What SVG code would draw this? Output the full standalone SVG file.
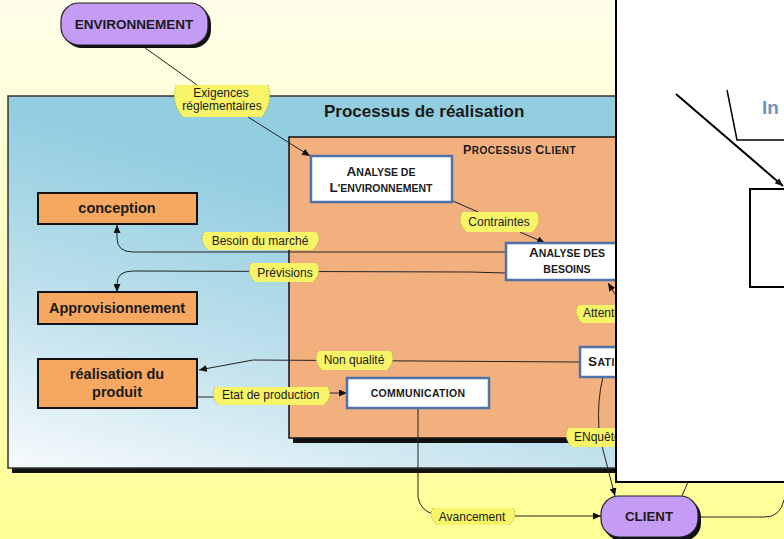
<svg xmlns="http://www.w3.org/2000/svg" width="784" height="539" viewBox="0 0 784 539">
<defs>
  <linearGradient id="gBg" x1="0" y1="0" x2="0" y2="1">
    <stop offset="0" stop-color="#fffeea"/>
    <stop offset="1" stop-color="#ffff96"/>
  </linearGradient>
  <linearGradient id="gBlue" gradientUnits="userSpaceOnUse" x1="40" y1="465" x2="130" y2="140">
    <stop offset="0" stop-color="#f3f9fc"/>
    <stop offset="0.45" stop-color="#c2e2ed"/>
    <stop offset="1" stop-color="#92cde0"/>
  </linearGradient>
  <marker id="arr" markerUnits="userSpaceOnUse" markerWidth="8" markerHeight="7" refX="8" refY="3.5" orient="auto">
    <path d="M0,0 L8,3.5 L0,7 z" fill="#111"/>
  </marker>
  <style>
    text { font-family: "Liberation Sans", Arial, sans-serif; fill: #1a1a1a; }
    .b { font-weight: bold; }
    .node-o { fill: #f6a860; stroke: #111; stroke-width: 2; }
    .node-w { fill: #ffffff; stroke: #4f72a8; stroke-width: 2.5; }
    .pill { fill: #c59cf5; stroke: #222; stroke-width: 1.2; }
    .shadow { fill: #111; }
    .ln { fill: none; stroke: #222; stroke-width: 1; }
    .lb { fill: #f7f468; }
    .ls { fill: none; stroke: #a39437; stroke-width: 0.7; stroke-dasharray: 1.5 1.5; }
    .lt { font-size: 12px; }
    .nt { font-size: 14.5px; font-weight: bold; }
    .sc { font-size: 10.5px; font-weight: bold; }
    .big { font-size: 13.5px; }
    .pl { fill: none; stroke: #000; }
  </style>
</defs>

<rect x="0" y="0" width="784" height="539" fill="url(#gBg)"/>

<!-- Container: Processus de réalisation -->
<g id="processus-realisation">
  <rect x="12" y="100" width="610" height="373" class="shadow"/>
  <rect x="8" y="96" width="610" height="372" fill="url(#gBlue)" stroke="#333" stroke-width="1.5"/>
  <text x="324" y="117" class="b" font-size="17">Processus de réalisation</text>
</g>

<!-- Container: Processus Client -->
<g id="processus-client">
  <rect x="293" y="141" width="330" height="302" class="shadow"/>
  <rect x="289" y="137" width="330" height="301" fill="#f3b07f" stroke="#111" stroke-width="1.5"/>
  <text x="463" y="154" class="b" font-size="10" letter-spacing="0.5" fill="#2a2a2a"><tspan font-size="12.5">P</tspan>ROCESSUS <tspan font-size="12.5">C</tspan>LIENT</text>
</g>

<!-- Connectors -->
<g id="connectors">
  <path class="ln" d="M141,45 L197,85"/>
  <path class="ln" d="M248,117 L310,156" marker-end="url(#arr)"/>
  <path class="ln" d="M453,201 L478,212"/>
  <path class="ln" d="M520,232 L545,243" marker-end="url(#arr)"/>
  <path class="ln" d="M506,252 L133,252 Q117,252 117,238 L117,225" marker-end="url(#arr)"/>
  <path class="ln" d="M506,273 L470,272 L133,271 Q117,271 117,284 L117,292" marker-end="url(#arr)"/>
  <path class="ln" d="M615,294 L608,283" marker-end="url(#arr)"/>
  <path class="ln" d="M580,362 L253,360 L199,370" marker-end="url(#arr)"/>
  <path class="ln" d="M197,397 L214,397"/>
  <path class="ln" d="M329,393 L347,393" marker-end="url(#arr)"/>
  <path class="ln" d="M603,377 Q597,400 599,430"/>
  <path class="ln" d="M602,446 L615,496" marker-end="url(#arr)"/>
  <path class="ln" d="M418,408 L418,497 Q420,510 433,514"/>
  <path class="ln" d="M515,516 L601,516" marker-end="url(#arr)"/>
  <path class="ln" d="M682,496 L688,482"/>
  <path class="ln" d="M698,517 L765,517 Q780,517 784,500"/>

  <g id="lbl-exigences">
    <path class="lb" d="M176,85 L268,85 C271,95 271,105 262,117 L183,117 C173,105 173,95 176,85 Z"/>
    <path class="ls" d="M176,85 C173,95 173,105 183,117 M268,85 C271,95 271,105 262,117"/>
    <text x="221" y="97" class="lt" text-anchor="middle">Exigences</text>
    <text x="222" y="110" class="lt" text-anchor="middle">réglementaires</text>
  </g>
  <g id="lbl-contraintes">
    <path class="lb" d="M462,212 L537,212 C540,218 540,224 533,232 L466,232 C459,224 459,218 462,212 Z"/>
    <path class="ls" d="M462,212 C459,218 459,224 466,232 M537,212 C540,218 540,224 533,232"/>
    <text x="499" y="226" class="lt" text-anchor="middle">Contraintes</text>
  </g>
  <g id="lbl-besoin">
    <path class="lb" d="M204,232 L317,232 C320,238 320,243 313,250 L208,250 C201,243 201,238 204,232 Z"/>
    <path class="ls" d="M204,232 C201,238 201,243 208,250 M317,232 C320,238 320,243 313,250"/>
    <text x="260" y="245" class="lt" text-anchor="middle">Besoin du marché</text>
  </g>
  <g id="lbl-previsions">
    <path class="lb" d="M251,263 L317,263 C320,269 320,275 313,282 L255,282 C248,275 248,269 251,263 Z"/>
    <path class="ls" d="M251,263 C248,269 248,275 255,282 M317,263 C320,269 320,275 313,282"/>
    <text x="285" y="277" class="lt" text-anchor="middle">Prévisions</text>
  </g>
  <g id="lbl-attentes">
    <path class="lb" d="M578,305 L630,305 L630,323 L582,323 C575,316 575,310 578,305 Z"/>
    <path class="ls" d="M578,305 C575,310 575,316 582,323"/>
    <text x="583" y="317" class="lt">Attentes</text>
  </g>
  <g id="lbl-nonqualite">
    <path class="lb" d="M318,351 L391,351 C394,357 394,363 387,370 L322,370 C315,363 315,357 318,351 Z"/>
    <path class="ls" d="M318,351 C315,357 315,363 322,370 M391,351 C394,357 394,363 387,370"/>
    <text x="354" y="364" class="lt" text-anchor="middle">Non qualité</text>
  </g>
  <g id="lbl-etat">
    <path class="lb" d="M215,387 L328,387 C331,393 331,399 324,405 L219,405 C212,399 212,393 215,387 Z"/>
    <path class="ls" d="M215,387 C212,393 212,399 219,405 M328,387 C331,393 331,399 324,405"/>
    <text x="222" y="399" class="lt">Etat de production</text>
  </g>
  <g id="lbl-enquete">
    <path class="lb" d="M568,428 L630,428 L630,447 L572,447 C565,440 565,434 568,428 Z"/>
    <path class="ls" d="M568,428 C565,434 565,440 572,447"/>
    <text x="574" y="441" class="lt">ENquête</text>
  </g>
  <g id="lbl-avancement">
    <path class="lb" d="M433,508 L513,508 C516,513 516,518 509,525 L437,525 C430,518 430,513 433,508 Z"/>
    <path class="ls" d="M433,508 C430,513 430,518 437,525 M513,508 C516,513 516,518 509,525"/>
    <text x="472" y="521" class="lt" text-anchor="middle">Avancement</text>
  </g>
</g>

<!-- Nodes -->
<g id="environnement">
  <rect x="64" y="6" width="147" height="42" rx="18" class="shadow"/>
  <rect x="61" y="3" width="147" height="42" rx="18" class="pill"/>
  <text x="134" y="29" class="b" font-size="13.5" text-anchor="middle">ENVIRONNEMENT</text>
</g>

<g id="client">
  <rect x="604" y="499" width="97" height="42" rx="18" class="shadow"/>
  <rect x="601" y="496" width="97" height="41" rx="18" class="pill"/>
  <text x="649" y="521" class="b" font-size="13.3" text-anchor="middle">CLIENT</text>
</g>

<g id="conception">
  <rect x="38" y="193" width="159" height="31" class="node-o"/>
  <text x="117" y="213" class="nt" text-anchor="middle">conception</text>
</g>

<g id="approvisionnement">
  <rect x="38" y="292" width="159" height="32" class="node-o"/>
  <text x="117" y="313" class="nt" text-anchor="middle">Approvisionnement</text>
</g>

<g id="realisation-produit">
  <rect x="38" y="359" width="159" height="49" class="node-o"/>
  <text x="117" y="379" class="nt" text-anchor="middle">réalisation du</text>
  <text x="117" y="397" class="nt" text-anchor="middle">produit</text>
</g>

<g id="analyse-environnement">
  <rect x="311" y="156" width="141" height="46" class="node-w"/>
  <text x="381" y="176" class="sc" text-anchor="middle"><tspan class="big">A</tspan>NALYSE DE</text>
  <text x="381" y="192" class="sc" text-anchor="middle"><tspan class="big">L</tspan>'ENVIRONNEMENT</text>
</g>

<g id="analyse-besoins">
  <rect x="506" y="243" width="122" height="37" class="node-w"/>
  <text x="567" y="257" class="sc" text-anchor="middle"><tspan class="big">A</tspan>NALYSE DES</text>
  <text x="567" y="273" class="sc" text-anchor="middle">BESOINS</text>
</g>

<g id="satisfaction">
  <rect x="580" y="347" width="60" height="30" class="node-w"/>
  <text x="588" y="366" class="sc" letter-spacing="0.4"><tspan class="big">S</tspan>ATISFACTION</text>
</g>

<g id="communication">
  <rect x="347" y="378" width="142" height="30" class="node-w"/>
  <text x="418" y="397" class="sc" letter-spacing="0.3" text-anchor="middle">COMMUNICATION</text>
</g>

<!-- Overlay white panel -->
<g id="overlay-panel">
  <rect x="616" y="-3" width="172" height="485" fill="#ffffff" stroke="#000" stroke-width="2"/>
  <text x="762" y="114" class="b" font-size="19" style="fill:#7394b6">In</text>
  <path class="pl" stroke-width="2" d="M676,94 L783,186" marker-end="url(#arr)"/>
  <path class="pl" stroke-width="1.5" d="M727,90 L737,140 L786,140"/>
  <rect x="750" y="189" width="50" height="98" fill="none" stroke="#000" stroke-width="2"/>
</g>
</svg>
